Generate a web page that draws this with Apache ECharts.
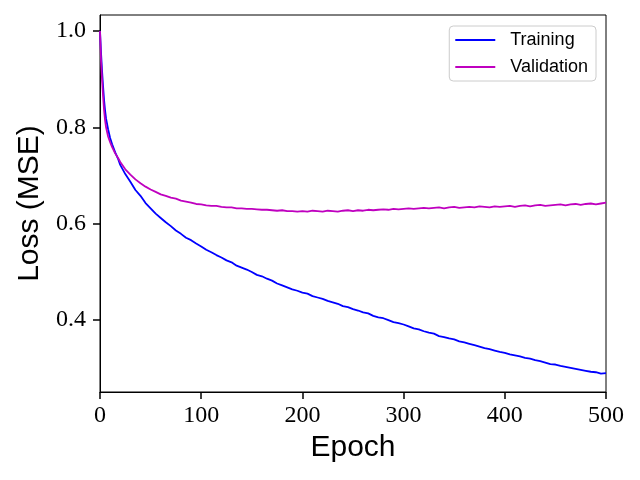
<!DOCTYPE html>
<html>
<head>
<meta charset="utf-8">
<script src="https://cdn.jsdelivr.net/npm/echarts@6/dist/echarts.min.js"></script>
<style>html,body{margin:0;padding:0;background:#fff}#c{width:640px;height:480px}</style>
</head>
<body>
<div id="c"></div>
<script>
var epochs = [0,1,2,3,4,5,6,8,10,12,15,18,20,25,30,
  35,40,45,50,55,60,65,70,75,80,85,90,95,100,
  105,110,115,120,125,130,135,140,145,150,155,160,165,170,175,180,185,190,195,200,
  205,210,215,220,225,230,235,240,245,250,255,260,265,270,275,280,285,290,295,300,
  305,310,315,320,325,330,335,340,345,350,355,360,365,370,375,380,385,390,395,400,
  405,410,415,420,425,430,435,440,445,450,455,460,465,470,475,480,485,490,495,500];
var training = [1.000,0.955,0.918,0.886,0.857,0.835,0.818,0.796,0.778,0.765,0.748,0.734,0.722,0.703,0.687,
  0.670,0.658,0.643,0.632,0.621,0.612,0.603,0.595,0.586,0.579,0.571,0.566,0.559,0.553,
  0.546,0.541,0.535,0.530,0.524,0.520,0.513,0.509,0.505,0.500,0.494,0.491,0.486,0.482,0.476,0.472,0.468,0.464,0.461,0.457,
  0.455,0.450,0.447,0.444,0.440,0.437,0.434,0.429,0.427,0.423,0.420,0.416,0.414,0.409,0.406,0.404,0.400,0.396,0.394,0.391,
  0.387,0.383,0.381,0.377,0.374,0.372,0.367,0.365,0.362,0.360,0.356,0.354,0.351,0.348,0.345,0.342,0.340,0.337,0.334,0.332,
  0.329,0.327,0.325,0.322,0.320,0.317,0.315,0.312,0.309,0.308,0.305,0.303,0.301,0.299,0.297,0.295,0.293,0.292,0.289,0.290];
var validation = [1.000,0.940,0.900,0.866,0.836,0.815,0.800,0.781,0.769,0.759,0.746,0.736,0.728,0.713,0.702,
  0.692,0.684,0.677,0.671,0.666,0.661,0.658,0.654,0.652,0.648,0.646,0.644,0.641,0.640,
  0.638,0.637,0.637,0.635,0.634,0.634,0.632,0.632,0.631,0.631,0.630,0.629,0.629,0.628,0.627,0.628,0.626,0.626,0.625,0.626,
  0.625,0.627,0.626,0.625,0.627,0.626,0.625,0.627,0.628,0.626,0.628,0.627,0.629,0.628,0.629,0.630,0.629,0.631,0.630,0.631,
  0.632,0.631,0.632,0.633,0.632,0.633,0.634,0.632,0.634,0.635,0.633,0.634,0.635,0.634,0.636,0.635,0.634,0.636,0.635,0.636,
  0.637,0.635,0.637,0.638,0.636,0.638,0.639,0.637,0.638,0.639,0.640,0.638,0.640,0.641,0.639,0.641,0.642,0.640,0.642,0.644];
var seriesNames = ['Training','Validation'];
var yTicks = [0.4,0.6,0.8,1.0];

function pairs(xs, ys){ return xs.map(function(x,i){ return [x, ys[i]]; }); }

var chart = echarts.init(document.getElementById('c'), null, {renderer:'canvas'});
chart.setOption({
  animation:false,
  backgroundColor:'#ffffff',
  grid:{left:100, right:34, top:15, bottom:88, show:true, borderColor:'#000', borderWidth:1, backgroundColor:'transparent'},
  legend:{
    right:44, top:26, orient:'vertical',
    data:seriesNames.map(function(n){ return {name:n, icon:'rect'}; }),
    itemWidth:40, itemHeight:2, itemGap:7,
    padding:[4,8,4,6],
    borderColor:'#cccccc', borderWidth:1, borderRadius:4, backgroundColor:'#fff',
    textStyle:{fontFamily:'Liberation Sans', fontSize:18, color:'#000', lineHeight:20, padding:[0,0,0,10]}
  },
  xAxis:{
    type:'value', min:0, max:500, interval:100,
    name:'Epoch', nameLocation:'middle', nameGap:37,
    nameTextStyle:{fontFamily:'Liberation Sans', fontSize:30, color:'#000'},
    axisLine:{show:true, lineStyle:{color:'#000', width:1}},
    axisTick:{show:true, inside:false, length:7, lineStyle:{color:'#000', width:1.5}},
    axisLabel:{fontFamily:'Liberation Serif', fontSize:24, color:'#000', margin:12},
    splitLine:{show:false}
  },
  yAxis:{
    type:'value', min:0.251, max:1.033,
    name:'Loss (MSE)', nameLocation:'middle', nameGap:52,
    nameTextStyle:{fontFamily:'Liberation Sans', fontSize:30, color:'#000'},
    axisLine:{show:true, lineStyle:{color:'#000', width:1}},
    axisTick:{show:true, inside:false, length:7, lineStyle:{color:'#000', width:1.5}, customValues:yTicks},
    axisLabel:{fontFamily:'Liberation Serif', fontSize:24, color:'#000', margin:14, customValues:yTicks,
      formatter:function(v){ return v.toFixed(1); }},
    splitLine:{show:false}
  },
  series:[
    {name:seriesNames[0], type:'line', data:pairs(epochs, training), showSymbol:false, symbol:'none',
     lineStyle:{color:'#0000ff', width:1.8}, itemStyle:{color:'#0000ff'}},
    {name:seriesNames[1], type:'line', data:pairs(epochs, validation), showSymbol:false, symbol:'none',
     lineStyle:{color:'#bf00bf', width:1.8}, itemStyle:{color:'#bf00bf'}}
  ]
});
</script>
</body>
</html>
